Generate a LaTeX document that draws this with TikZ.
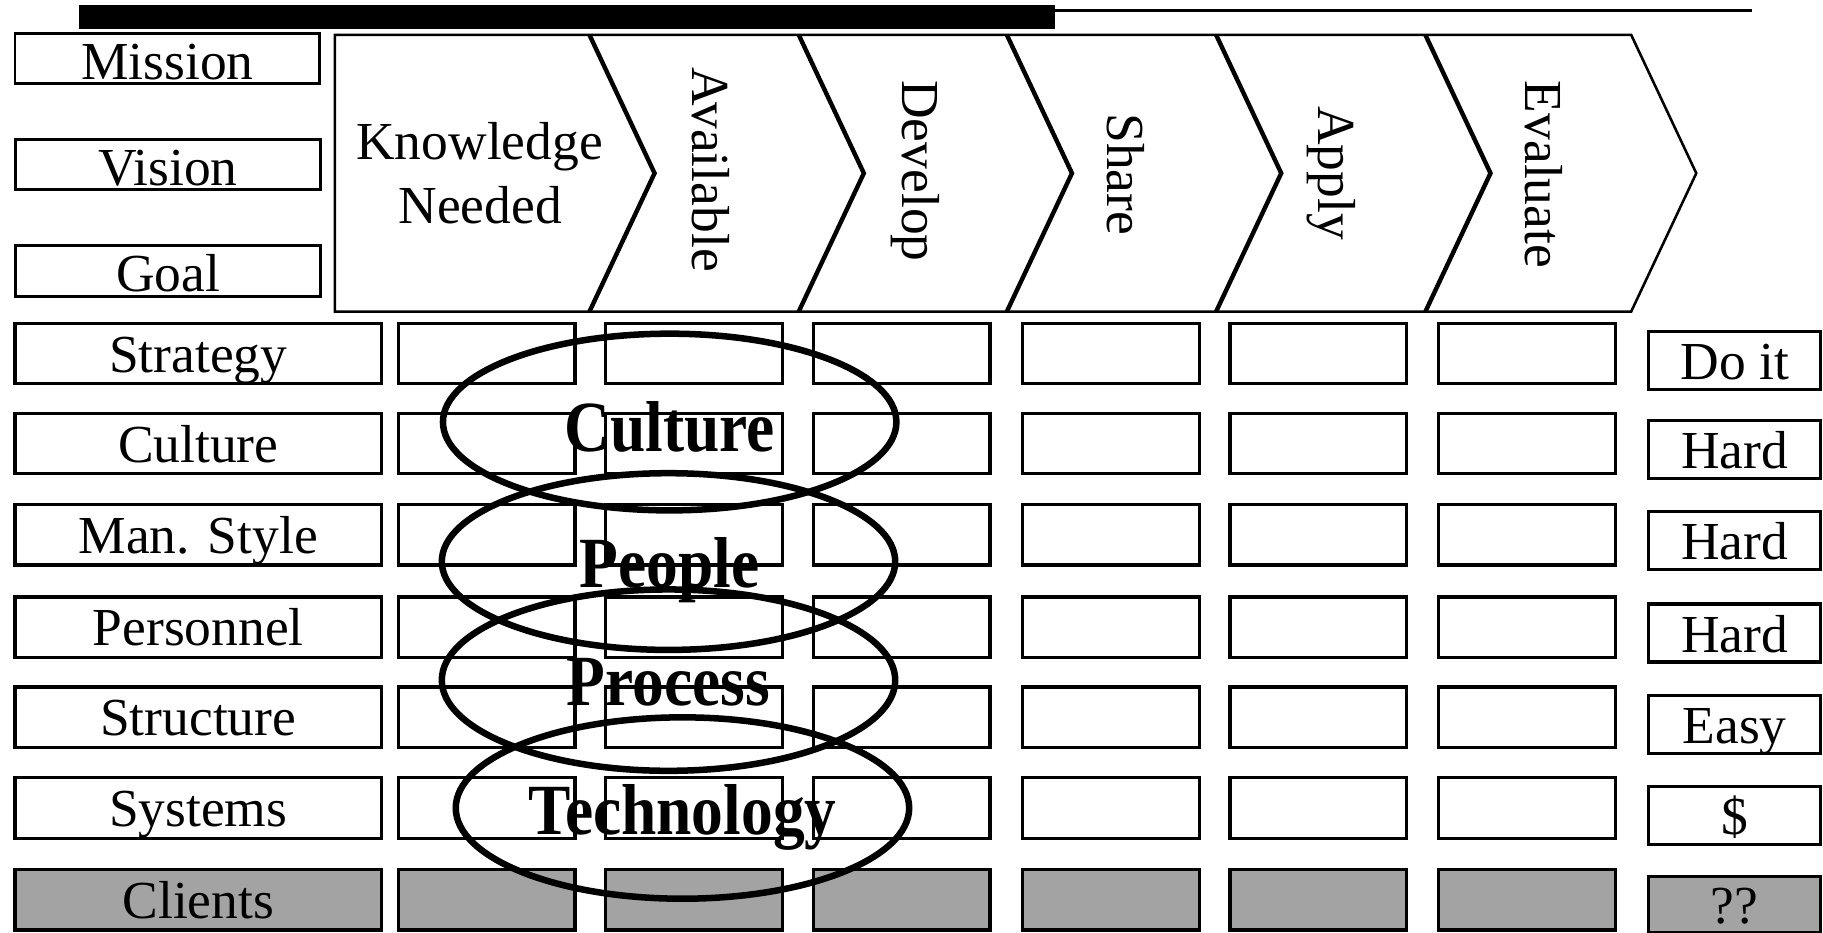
\documentclass[tikz,border=0pt]{standalone}
\usepackage{fontspec}
\setmainfont{Liberation Serif}
\usetikzlibrary{shapes.geometric}
\begin{document}
\begin{tikzpicture}[x=0.5pt,y=-0.5pt,
  cell/.style={draw, line width=1.4pt, minimum width=76pt, minimum height=26pt, inner sep=0pt,
    font=\fontsize{23}{27.5}\selectfont, text height=16pt, text depth=0pt},
  labcell/.style={cell, minimum width=157.5pt},
  rcell/.style={cell, minimum width=74pt, minimum height=25pt, text height=16.5pt},
  hdr/.style={cell, line width=1.1pt, minimum width=131pt, minimum height=21.5pt, text height=18pt},
  shade/.style={fill=black!36},
  ring/.style={draw, ellipse, line width=2.8pt, minimum width=195pt, minimum height=76pt, inner sep=0pt},
  big/.style={font=\fontsize{31}{31}\selectfont\bfseries, xscale=0.88, anchor=base, inner sep=0pt},
  chev/.style={font=\fontsize{23}{27.5}\selectfont, inner sep=0pt, anchor=base}
]
\useasboundingbox (0,0) rectangle (1568,802);

% top bar
\fill (68,4) rectangle (907,25);
\draw[line width=1pt] (907,9) -- (1507,9);

% header boxes
\node[hdr] (mission) at (144,50.5) {Mission};
\node[hdr] (vision) at (144.5,141.5) {Vision};
\node[hdr, minimum height=22pt] (goal) at (144.5,233) {Goal};

% chevron band
\draw[line width=1.1pt, line join=miter] (288,30) -- (1403,30) -- (1459,149) -- (1403,268) -- (288,268) -- cycle;
\foreach \t in {507,687,866,1046,1226}
  \draw[line width=1.9pt, line join=miter] (\t,30) -- (\t+56,149) -- (\t,268);

\node[chev] (kn1) at (412.5,137) {Knowledge};
\node[chev] (kn2) at (413,192) {Needed};
\node[chev, rotate=-90] (avail) at (596,146) {Available};
\node[chev, rotate=-90] (devel) at (776,147) {Develop};
\node[chev, rotate=-90] (share) at (953,150) {Share};
\node[chev, rotate=-90] (apply) at (1134,149) {Apply};
\node[chev, rotate=-90] (evalu) at (1312,150) {Evaluate};

% grid rows
\foreach \y/\t/\n in {304/Strategy/1, 381.5/Culture/2, 460/Man. Style/3, 539.5/Personnel/4, 617/Structure/5, 695/Systems/6}{
  \node[labcell] (c\n-0) at (170.5,\y) {\t};
  \foreach \x [count=\c] in {418.5,597,775.5,955.5,1134,1313.5}
    \node[cell] (c\n-\c) at (\x,\y) {};
}
\node[labcell, shade] (c7-0) at (170.5,774) {Clients};
\foreach \x [count=\c] in {418.5,597,775.5,955.5,1134,1313.5}
  \node[cell, shade] (c7-\c) at (\x,774) {};

% right column
\foreach \y/\t/\n in {310/Do it/1, 386.5/Hard/2, 465/Hard/3, 544.5/Hard/4, 623/Easy/5, 701.5/\$/6}
  \node[rcell] (rt\n) at (1492,\y) {\t};
\node[rcell, shade, minimum height=24pt] (rt7) at (1492,778) {??};

% ellipses
\node[ring] (e1) at (576,363) {};
\node[ring] (e2) at (575,483) {};
\node[ring, minimum height=78pt] (e3) at (575,585) {};
\node[ring, minimum height=78pt] (e4) at (587,695) {};

\node[big] (t1) at (576,388) {Culture};
\node[big] (t2) at (576,505) {People};
\node[big] (t3) at (575,607) {Process};
\node[big] (t4) at (587,718) {Technology};
\end{tikzpicture}
\end{document}
